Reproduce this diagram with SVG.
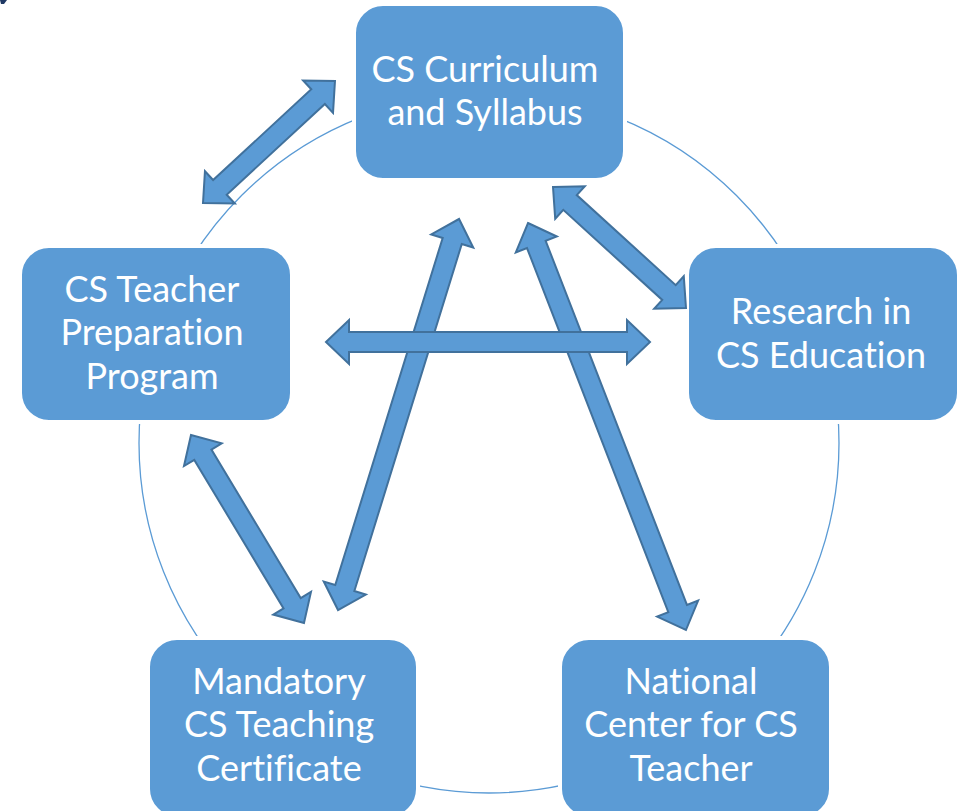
<svg xmlns="http://www.w3.org/2000/svg" width="963" height="811" viewBox="0 0 963 811">
  <style>
    .box { fill: #5B9BD5; stroke: #FFFFFF; stroke-width: 4; }
    .lbl { fill: #FFFFFF; font-family: Lato, "Open Sans", "Liberation Sans", sans-serif; font-size: 36px; text-anchor: middle; font-variant-ligatures: none; font-feature-settings: "liga" 0, "clig" 0; }
    .arr { fill: #5B9BD5; stroke: #41719C; stroke-width: 2; stroke-linejoin: miter; }
    .ring { fill: none; stroke: #5B9BD5; stroke-width: 1.3; }
  </style>
  <rect x="0" y="0" width="963" height="811" fill="#FFFFFF"/>
  <path d="M0,0 L7,0 L4,4 L1,4 Z" fill="#1F3864"/>
  <circle class="ring" cx="489" cy="443" r="350"/>

  <g id="node-curriculum">
    <rect class="box" x="354" y="4" width="271" height="176" rx="29"/>
    <text class="lbl" x="485" y="82">CS Curriculum</text>
    <text class="lbl" x="485" y="125">and Syllabus</text>
  </g>
  <g id="node-research">
    <rect class="box" x="687" y="246" width="272" height="176" rx="29"/>
    <text class="lbl" x="821" y="324">Research in</text>
    <text class="lbl" x="821" y="368">CS Education</text>
  </g>
  <g id="node-national">
    <rect class="box" x="560" y="638" width="271" height="180" rx="29"/>
    <text class="lbl" x="691" y="694">National</text>
    <text class="lbl" x="691" y="737">Center for CS</text>
    <text class="lbl" x="691" y="781">Teacher</text>
  </g>
  <g id="node-mandatory">
    <rect class="box" x="148" y="638" width="270" height="180" rx="29"/>
    <text class="lbl" x="279" y="694">Mandatory</text>
    <text class="lbl" x="279" y="737">CS Teaching</text>
    <text class="lbl" x="279" y="781">Certificate</text>
  </g>
  <g id="node-teacher-prep">
    <rect class="box" x="20" y="246" width="272" height="176" rx="29"/>
    <text class="lbl" x="152" y="302">CS Teacher</text>
    <text class="lbl" x="152" y="345">Preparation</text>
    <text class="lbl" x="152" y="389">Program</text>
  </g>

  <g id="connectors">
    <path class="arr" transform="translate(203,203) rotate(-42.74)" d="M0,0 L23,-22 L23,-10 L156.7,-10 L156.7,-22 L179.7,0 L156.7,22 L156.7,10 L23,10 L23,22 Z"/>
    <path class="arr" transform="translate(553,187) rotate(42.30)" d="M0,0 L23,-22 L23,-10 L156.8,-10 L156.8,-22 L179.8,0 L156.8,22 L156.8,10 L23,10 L23,22 Z"/>
    <path class="arr" transform="translate(191,435) rotate(58.99)" d="M0,0 L23,-22 L23,-10 L196.3,-10 L196.3,-22 L219.3,0 L196.3,22 L196.3,10 L23,10 L23,22 Z"/>
    <path class="arr" transform="translate(338,610) rotate(-72.80)" d="M0,0 L23,-22 L23,-10 L386.3,-10 L386.3,-22 L409.3,0 L386.3,22 L386.3,10 L23,10 L23,22 Z"/>
    <path class="arr" transform="translate(528,223) rotate(68.79)" d="M0,0 L23,-22 L23,-10 L413.6,-10 L413.6,-22 L436.6,0 L413.6,22 L413.6,10 L23,10 L23,22 Z"/>
    <path class="arr" transform="translate(326,342)" d="M0,0 L23,-22 L23,-10 L301,-10 L301,-22 L324,0 L301,22 L301,10 L23,10 L23,22 Z"/>
  </g>
</svg>
